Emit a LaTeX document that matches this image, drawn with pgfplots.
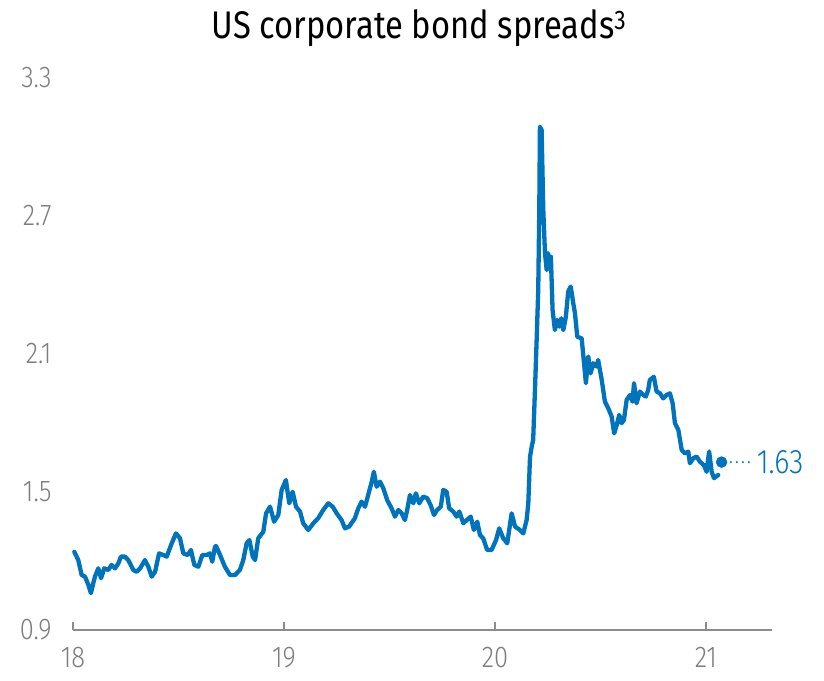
\documentclass[border=0pt]{standalone}
\usepackage{fontspec}
\setmainfont[FakeStretch=0.85, UprightFont=* Light]{Fira Sans}
\newfontfamily\titlefont[FakeStretch=0.85]{Fira Sans}
\usepackage{pgfplots}
\pgfplotsset{compat=1.18}
\definecolor{ubsblue}{RGB}{0,115,189}
\definecolor{tickgray}{RGB}{125,125,125}
\definecolor{axisgray}{RGB}{140,140,140}
\begin{document}
\begin{tikzpicture}
\useasboundingbox (-73pt,-50pt) rectangle (751pt,630pt);
\begin{axis}[
  at={(0pt,0pt)}, anchor=south west,
  scale only axis, width=699pt, height=552pt,
  xmin=18, xmax=21.313, ymin=0.9, ymax=3.3,
  axis x line=bottom, axis y line=left,
  axis line style={-},
  x axis line style={draw=axisgray, line width=1.5pt},
  y axis line style={draw=none},
  xtick={18,19,20,21}, xticklabels={18,19,20,21},
  ytick={0.9,1.5,2.1,2.7,3.3}, yticklabels={0.9,1.5,2.1,2.7,3.3},
  tick align=inside,
  major tick length=8pt,
  x tick style={draw=axisgray, line width=1.2pt},
  y tick style={draw=none},
  ticklabel style={text=tickgray, font=\fontsize{30}{34}\selectfont},
  xticklabel style={yshift=-14pt},
  yticklabel style={xshift=-18pt},
  /pgf/number format/assume math mode=true,
  clip=false,
]
\addplot[ubsblue, line width=4.3pt, line join=round, line cap=round] coordinates {
(18.006,1.240) (18.025,1.204) (18.041,1.139) (18.057,1.132) (18.073,1.096)
(18.085,1.060) (18.096,1.103) (18.104,1.132) (18.120,1.168) (18.133,1.125)
(18.148,1.168) (18.167,1.161) (18.183,1.183) (18.199,1.168) (18.215,1.190)
(18.227,1.219) (18.246,1.219) (18.262,1.204) (18.286,1.161) (18.302,1.153)
(18.318,1.168) (18.341,1.204) (18.357,1.175) (18.373,1.132) (18.389,1.153)
(18.408,1.233) (18.428,1.226) (18.444,1.219) (18.468,1.277) (18.488,1.320)
(18.507,1.299) (18.523,1.233) (18.544,1.226) (18.559,1.248) (18.575,1.183)
(18.594,1.175) (18.613,1.226) (18.634,1.226) (18.649,1.233) (18.660,1.197)
(18.673,1.262) (18.678,1.265) (18.697,1.226) (18.720,1.175) (18.744,1.139)
(18.768,1.139) (18.791,1.161) (18.807,1.204) (18.823,1.277) (18.836,1.291)
(18.852,1.219) (18.863,1.204) (18.878,1.299) (18.902,1.327) (18.915,1.407)
(18.934,1.436) (18.953,1.371) (18.973,1.400) (18.989,1.509) (19.009,1.552)
(19.025,1.451) (19.041,1.501) (19.057,1.436) (19.076,1.415) (19.091,1.364)
(19.115,1.335) (19.139,1.364) (19.162,1.386) (19.186,1.422) (19.210,1.451)
(19.231,1.436) (19.250,1.407) (19.273,1.378) (19.289,1.342) (19.309,1.350)
(19.336,1.386) (19.352,1.429) (19.368,1.458) (19.384,1.436) (19.399,1.487)
(19.416,1.545) (19.426,1.588) (19.439,1.523) (19.455,1.545) (19.471,1.516)
(19.489,1.465) (19.510,1.429) (19.526,1.393) (19.542,1.422) (19.558,1.407)
(19.573,1.378) (19.584,1.422) (19.597,1.487) (19.613,1.451) (19.625,1.494)
(19.641,1.451) (19.660,1.480) (19.679,1.473) (19.695,1.443) (19.711,1.400)
(19.726,1.422) (19.743,1.436) (19.755,1.509) (19.771,1.501) (19.783,1.429)
(19.802,1.415) (19.818,1.393) (19.831,1.415) (19.850,1.364) (19.866,1.378)
(19.885,1.393) (19.900,1.335) (19.916,1.371) (19.929,1.313) (19.944,1.299)
(19.963,1.248) (19.984,1.248) (20.005,1.291) (20.020,1.342) (20.039,1.299)
(20.058,1.277) (20.079,1.407) (20.095,1.350) (20.118,1.335) (20.134,1.320)
(20.150,1.378) (20.158,1.451) (20.166,1.653) (20.174,1.697) (20.181,1.726)
(20.189,1.929) (20.197,2.147) (20.205,2.378) (20.210,2.726) (20.213,3.088)
(20.221,3.074) (20.229,2.726) (20.237,2.538) (20.245,2.465) (20.252,2.538)
(20.260,2.480) (20.265,2.523) (20.273,2.291) (20.284,2.204) (20.295,2.248)
(20.305,2.219) (20.314,2.255) (20.324,2.204) (20.336,2.262) (20.347,2.371)
(20.359,2.393) (20.371,2.321) (20.379,2.278) (20.390,2.175) (20.411,2.168)
(20.422,2.060) (20.431,1.973) (20.442,2.089) (20.453,2.016) (20.466,2.060)
(20.482,2.045) (20.489,2.074) (20.506,1.987) (20.521,1.893) (20.537,1.864)
(20.553,1.828) (20.565,1.755) (20.577,1.791) (20.589,1.835) (20.600,1.799)
(20.611,1.813) (20.624,1.900) (20.640,1.922) (20.652,1.893) (20.659,1.973)
(20.671,1.886) (20.687,1.937) (20.703,1.922) (20.715,1.915) (20.726,1.943)
(20.734,1.987) (20.753,2.001) (20.766,1.937) (20.782,1.929) (20.797,1.907)
(20.814,1.922) (20.829,1.929) (20.842,1.886) (20.853,1.799) (20.869,1.770)
(20.885,1.683) (20.900,1.668) (20.916,1.676) (20.924,1.625) (20.940,1.647)
(20.956,1.654) (20.971,1.632) (20.990,1.617) (21.003,1.588) (21.015,1.676)
(21.027,1.588) (21.038,1.560) (21.058,1.574)
};
\addplot[ubsblue, only marks, mark=*, mark size=5.5pt] coordinates {(21.074,1.63)};
\draw[ubsblue, line width=2.4pt, line cap=round, dash pattern=on 0pt off 6pt] (axis cs:21.118,1.63) -- (axis cs:21.205,1.63);
\node[anchor=west, inner sep=0pt, text=ubsblue, font=\fontsize{34}{38}\selectfont] at (axis cs:21.24,1.63) {1.63};
\end{axis}
\node[font=\titlefont\fontsize{38.5}{42}\selectfont] at (346pt,602pt) {US corporate bond spreads\textsuperscript{3}};
\end{tikzpicture}
\end{document}
